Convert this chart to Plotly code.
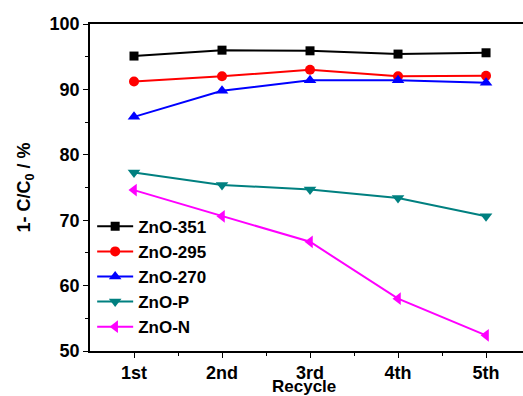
import plotly.graph_objects as go

cycles = [1, 2, 3, 4, 5]
cycle_labels = ["1st", "2nd", "3rd", "4th", "5th"]
zno_351 = [95.1, 96.0, 95.9, 95.4, 95.6]
zno_295 = [91.2, 92.0, 93.0, 92.0, 92.1]
zno_270 = [85.8, 89.8, 91.4, 91.4, 91.0]
zno_p = [77.3, 75.4, 74.7, 73.4, 70.6]
zno_n = [74.6, 70.6, 66.7, 58.0, 52.4]

series = [
    ("ZnO-351", zno_351, "#000000", "square", 9),
    ("ZnO-295", zno_295, "#ff0000", "circle", 10),
    ("ZnO-270", zno_270, "#0000ff", "triangle-up", 11),
    ("ZnO-P", zno_p, "#008080", "triangle-down", 11),
    ("ZnO-N", zno_n, "#ff00ff", "triangle-left", 11),
]

fig = go.Figure()
for name, vals, color, sym, sz in series:
    fig.add_trace(go.Scatter(
        x=cycles, y=vals, name=name, mode="lines+markers",
        line=dict(color=color, width=2),
        marker=dict(symbol=sym, size=sz, color=color),
    ))

font_family = "Liberation Sans, Arial, sans-serif"
fig.update_layout(
    width=523, height=396,
    margin=dict(l=90, r=0, t=24, b=45),
    plot_bgcolor="white", paper_bgcolor="white",
    font=dict(family=font_family, size=18, color="black"),
    showlegend=True,
    legend=dict(
        x=0.005, y=0.435, xanchor="left", yanchor="top",
        bgcolor="rgba(0,0,0,0)", tracegroupgap=0,
        font=dict(size=17, family=font_family, weight="bold"),
        itemwidth=36,
    ),
    xaxis=dict(
        range=[0.5, 5.42], tickvals=cycles, ticktext=cycle_labels,
        showgrid=False, zeroline=False, automargin=False,
        showline=True, linecolor="black", linewidth=1.5, mirror=True,
        ticks="outside", ticklen=5, tickwidth=1.2, tickcolor="black",
        minor=dict(tickvals=[1.5, 2.5, 3.5, 4.5], ticks="outside", ticklen=3, tickcolor="black"),
        tickfont=dict(size=18, weight="bold"),
    ),
    yaxis=dict(
        range=[50, 100], tickvals=[50, 60, 70, 80, 90, 100],
        showgrid=False, zeroline=False, automargin=False,
        showline=True, linecolor="black", linewidth=1.5, mirror=False,
        ticks="outside", ticklen=5, tickwidth=1.2, tickcolor="black",
        minor=dict(tickvals=[55, 65, 75, 85, 95], ticks="outside", ticklen=3, tickcolor="black"),
        tickfont=dict(size=18, weight="bold"),
        title=dict(text="1- C/C<sub>0</sub> / %", font=dict(size=18, weight="bold"), standoff=14),
    ),
    annotations=[dict(
        text="Recycle", xref="paper", yref="paper", x=0.494, y=-0.11,
        xanchor="center", yanchor="middle", showarrow=False, borderpad=0,
        font=dict(size=17, weight="bold", family=font_family),
    )],
)

fig.write_html("out.html")
